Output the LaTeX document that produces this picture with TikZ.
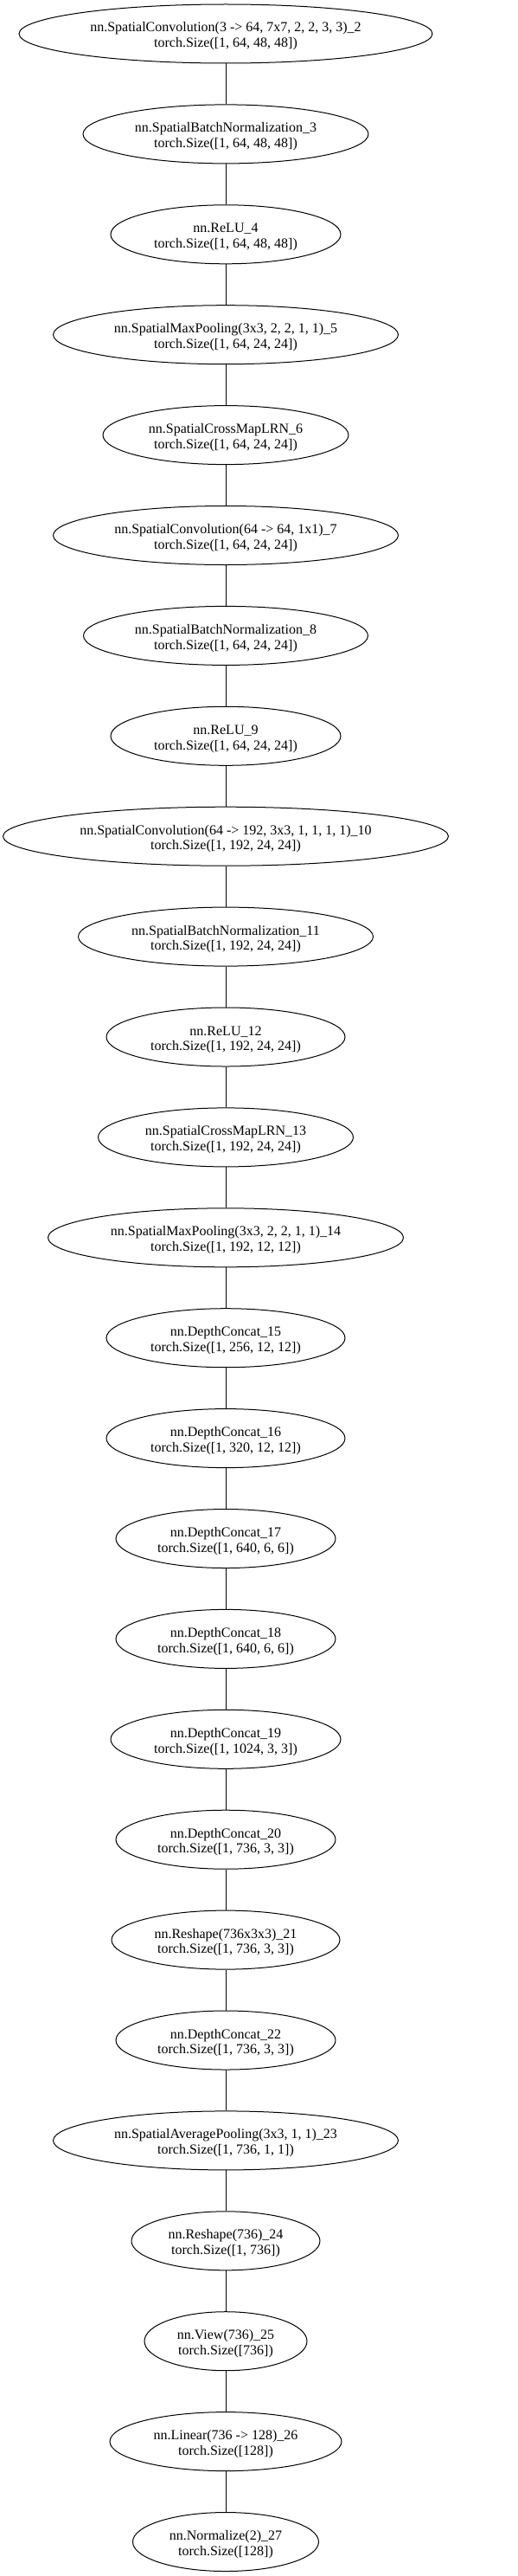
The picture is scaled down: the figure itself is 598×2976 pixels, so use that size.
\documentclass[tikz,border=0pt]{standalone}
\usepackage{fontspec}
\setmainfont{Liberation Serif}
\usetikzlibrary{shapes.geometric}
\tikzset{
  layer/.style={draw, ellipse, inner sep=0pt, minimum height=68pt, line width=1pt,
    font=\fontsize{16}{17.7}\selectfont, align=center},
  link/.style={line width=1pt}
}
\newcommand{\Lyr}[5]{%
  \node[layer, minimum width=#3pt] (#1) at (261pt, {-39pt-115.9pt*#2})
    {\rule{0pt}{17.7pt}#4\\#5\rule[-4pt]{0pt}{4pt}};}
\begin{document}
\begin{tikzpicture}
\useasboundingbox (0,0) rectangle (598pt,-2976pt);
\Lyr{n2}{0}{478}{nn.SpatialConvolution(3 -> 64, 7x7, 2, 2, 3, 3)\_2}{torch.Size([1, 64, 48, 48])}
\Lyr{n3}{1}{330}{nn.SpatialBatchNormalization\_3}{torch.Size([1, 64, 48, 48])}
\Lyr{n4}{2}{266}{nn.ReLU\_4}{torch.Size([1, 64, 48, 48])}
\Lyr{n5}{3}{399}{nn.SpatialMaxPooling(3x3, 2, 2, 1, 1)\_5}{torch.Size([1, 64, 24, 24])}
\Lyr{n6}{4}{284}{nn.SpatialCrossMapLRN\_6}{torch.Size([1, 64, 24, 24])}
\Lyr{n7}{5}{399}{nn.SpatialConvolution(64 -> 64, 1x1)\_7}{torch.Size([1, 64, 24, 24])}
\Lyr{n8}{6}{329}{nn.SpatialBatchNormalization\_8}{torch.Size([1, 64, 24, 24])}
\Lyr{n9}{7}{266}{nn.ReLU\_9}{torch.Size([1, 64, 24, 24])}
\Lyr{n10}{8}{515}{nn.SpatialConvolution(64 -> 192, 3x3, 1, 1, 1, 1)\_10}{torch.Size([1, 192, 24, 24])}
\Lyr{n11}{9}{341}{nn.SpatialBatchNormalization\_11}{torch.Size([1, 192, 24, 24])}
\Lyr{n12}{10}{276}{nn.ReLU\_12}{torch.Size([1, 192, 24, 24])}
\Lyr{n13}{11}{295}{nn.SpatialCrossMapLRN\_13}{torch.Size([1, 192, 24, 24])}
\Lyr{n14}{12}{411}{nn.SpatialMaxPooling(3x3, 2, 2, 1, 1)\_14}{torch.Size([1, 192, 12, 12])}
\Lyr{n15}{13}{276}{nn.DepthConcat\_15}{torch.Size([1, 256, 12, 12])}
\Lyr{n16}{14}{276}{nn.DepthConcat\_16}{torch.Size([1, 320, 12, 12])}
\Lyr{n17}{15}{254}{nn.DepthConcat\_17}{torch.Size([1, 640, 6, 6])}
\Lyr{n18}{16}{254}{nn.DepthConcat\_18}{torch.Size([1, 640, 6, 6])}
\Lyr{n19}{17}{266}{nn.DepthConcat\_19}{torch.Size([1, 1024, 3, 3])}
\Lyr{n20}{18}{254}{nn.DepthConcat\_20}{torch.Size([1, 736, 3, 3])}
\Lyr{n21}{19}{264}{nn.Reshape(736x3x3)\_21}{torch.Size([1, 736, 3, 3])}
\Lyr{n22}{20}{254}{nn.DepthConcat\_22}{torch.Size([1, 736, 3, 3])}
\Lyr{n23}{21}{399}{nn.SpatialAveragePooling(3x3, 1, 1)\_23}{torch.Size([1, 736, 1, 1])}
\Lyr{n24}{22}{218}{nn.Reshape(736)\_24}{torch.Size([1, 736])}
\Lyr{n25}{23}{188}{nn.View(736)\_25}{torch.Size([736])}
\Lyr{n26}{24}{268}{nn.Linear(736 -> 128)\_26}{torch.Size([128])}
\Lyr{n27}{25}{215}{nn.Normalize(2)\_27}{torch.Size([128])}
\foreach \a/\b in {2/3,3/4,4/5,5/6,6/7,7/8,8/9,9/10,10/11,11/12,12/13,13/14,14/15,15/16,16/17,17/18,18/19,19/20,20/21,21/22,22/23,23/24,24/25,25/26,26/27}
  \draw[link] (n\a) -- (n\b);
\end{tikzpicture}
\end{document}
